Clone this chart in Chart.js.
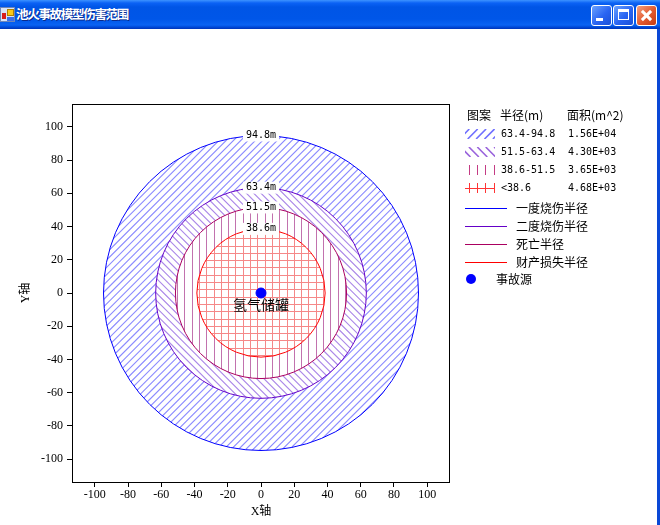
<!DOCTYPE html>
<html>
<head>
<meta charset="utf-8">
<title>池火事故模型伤害范围</title>
<script src="https://cdn.jsdelivr.net/npm/chart.js@4.4.0/dist/chart.umd.min.js"></script>
<style>
  html, body { margin: 0; padding: 0; background: #fff; }
  #win { position: relative; width: 660px; height: 525px; overflow: hidden; background: #fff; }
  #titlebar {
    position: absolute; left: 0; top: 0; width: 660px; height: 29px;
    background: linear-gradient(to bottom, #3d93ff 0px, #0b62f5 3px, #0055e6 7px, #0056e8 19px, #0a63f3 25px, #004ad9 27px, #0034b8 29px);
  }
  #caption {
    position: absolute; left: 16px; top: 5px; color: #fff;
    font: bold 12.5px "Noto Sans CJK SC"; line-height: 18px; letter-spacing: -1.3px;
    text-shadow: 1px 1px 0 #0a2a8c;
  }
  #appicon { position: absolute; left: 0; top: 7px; width: 15px; height: 15px; background: #d8e4f8; border: 1px solid #6f86b8; box-sizing: border-box; }
  #appicon .a { position: absolute; left: 6px; top: 1px; width: 7px; height: 7px; background: #f8c818; border: 1px solid #b08000; box-sizing: border-box; }
  #appicon .b { position: absolute; left: 1px; top: 5px; width: 4px; height: 6px; background: #d81e1e; }
  #appicon .c { position: absolute; left: 6px; top: 9px; width: 7px; height: 4px; background: #3a6ee8; }
  .btn {
    position: absolute; top: 5px; width: 21px; height: 21px; box-sizing: border-box;
    border: 1px solid #fff; border-radius: 3px;
    background: linear-gradient(135deg, #6aa2ff 0%, #2964f2 55%, #1b50d8 100%);
  }
  #bmin { left: 591px; }
  #bmax { left: 613px; }
  #bclose { left: 636px; background: linear-gradient(135deg, #f3a07e 0%, #e2582e 55%, #c43c14 100%); }
  #bmin span { position: absolute; left: 4px; top: 12px; width: 7px; height: 3px; background: #fff; }
  #bmax span { position: absolute; left: 4px; top: 3px; width: 11px; height: 11px; box-sizing: border-box; border: 1px solid #fff; border-top-width: 3px; }
  #bclose span { position: absolute; left: 8px; top: 3px; width: 3px; height: 13px; background: #fff; }
  #bclose span.l { transform: rotate(45deg); }
  #bclose span.r { transform: rotate(-45deg); }
  #frameR { position: absolute; left: 657px; top: 29px; width: 3px; height: 496px; background: #0a48d6; }
  #myChart { position: absolute; left: 0; top: 29px; width: 658px; height: 496px; }
</style>
</head>
<body>
<div id="win">
  <div id="titlebar">
    <div id="appicon"><div class="a"></div><div class="b"></div><div class="c"></div></div>
    <div id="caption">池火事故模型伤害范围</div>
    <div class="btn" id="bmin"><span></span></div>
    <div class="btn" id="bmax"><span></span></div>
    <div class="btn" id="bclose"><span class="l"></span><span class="r"></span></div>
  </div>
  <div id="frameR"></div>
  <canvas id="myChart" width="658" height="496"></canvas>
</div>
<script>
const radii = [94.8, 63.4, 51.5, 38.6];
const radiusTags = ['94.8m', '63.4m', '51.5m', '38.6m'];
const lineNames = ['一度烧伤半径', '二度烧伤半径', '死亡半径', '财产损失半径'];
const rangeTexts = ['63.4-94.8', '51.5-63.4', '38.6-51.5', '<38.6'];
const areaTexts = ['1.56E+04', '4.30E+03', '3.65E+03', '4.68E+03'];
const legendHeaders = ['图案', '半径(m)', '面积(m^2)'];
const sourceX = [0];
const sourceY = [0];
const sourceName = '氢气储罐';
const sourceLegend = '事故源';
const tickValues = [-100, -80, -60, -40, -20, 0, 20, 40, 60, 80, 100];
const axisMax = radii[0] * 1.2;

const hatchKinds = ['fwd', 'back', 'vert', 'grid'];
const ringColors = ['#8c8cff', '#ab88e8', '#c272ae', '#f58888'];
const ringWidths = [1.15, 1.15, 1, 1];
const patchColors = ['#7070ff', '#9a64dc', '#c43c84', '#ff3434'];
const lineColors = ['#0000ff', '#6400c8', '#aa0060', '#ff0000'];
const tickFont = { family: '"Liberation Serif", "Noto Sans CJK SC"', size: 12 };
const monoFont = '10px "DejaVu Sans Mono"';
const cjkFont = '12px "Noto Sans CJK SC"';

function hatch(ctx, kind, color, box, step, ox, oy, width) {
    const { x, y, w, h } = box;
    ctx.strokeStyle = color;
    ctx.lineWidth = width || 1;
    ctx.beginPath();
    if (kind === 'vert' || kind === 'grid') {
        for (let px = ox + Math.ceil((x - ox) / step) * step; px <= x + w; px += step) {
            const sx = Math.round(px) + 0.5;
            ctx.moveTo(sx, y);
            ctx.lineTo(sx, y + h);
        }
    }
    if (kind === 'grid') {
        for (let py = oy + Math.ceil((y - oy) / step) * step; py <= y + h; py += step) {
            const sy = Math.round(py) + 0.5;
            ctx.moveTo(x, sy);
            ctx.lineTo(x + w, sy);
        }
    }
    if (kind === 'fwd') {
        const c0 = ox + Math.ceil((x + y - ox) / step) * step;
        for (let c = c0; c <= x + w + y + h; c += step) {
            ctx.moveTo(c - y, y);
            ctx.lineTo(c - y - h, y + h);
        }
    }
    if (kind === 'back') {
        const c0 = ox + Math.ceil((x - y - h - ox) / step) * step;
        for (let c = c0; c <= x + w - y; c += step) {
            ctx.moveTo(c + y, y);
            ctx.lineTo(c + y + h, y + h);
        }
    }
    ctx.stroke();
}

const zonesPlugin = {
    id: 'zones',
    beforeDatasetsDraw(chart) {
        const ctx = chart.ctx;
        const xs = chart.scales.x, ys = chart.scales.y;
        const cx = xs.getPixelForValue(0), cy = ys.getPixelForValue(0);
        const rx = r => xs.getPixelForValue(r) - cx;
        const ry = r => cy - ys.getPixelForValue(r);

        radii.forEach((r, i) => {
            const inner = radii[i + 1];
            ctx.save();
            ctx.beginPath();
            ctx.ellipse(cx, cy, rx(r), ry(r), 0, 0, Math.PI * 2);
            if (inner) {
                ctx.moveTo(cx + rx(inner), cy);
                ctx.ellipse(cx, cy, rx(inner), ry(inner), 0, 0, Math.PI * 2, true);
            }
            ctx.clip('evenodd');
            const box = { x: cx - rx(r) - 2, y: cy - ry(r) - 2, w: rx(r) * 2 + 4, h: ry(r) * 2 + 4 };
            hatch(ctx, hatchKinds[i], ringColors[i], box, 7.3, cx + 3.65, cy + 3.65, ringWidths[i]);
            ctx.restore();
        });

        radii.forEach((r, i) => {
            ctx.beginPath();
            ctx.ellipse(cx, cy, rx(r), ry(r), 0, 0, Math.PI * 2);
            ctx.strokeStyle = lineColors[i];
            ctx.lineWidth = 1;
            ctx.stroke();
        });

        ctx.font = monoFont;
        ctx.textAlign = 'center';
        ctx.textBaseline = 'middle';
        radii.forEach((r, i) => {
            const ty = ys.getPixelForValue(r);
            const tw = ctx.measureText(radiusTags[i]).width;
            ctx.fillStyle = '#fff';
            ctx.fillRect(cx - tw / 2 - 3, ty - 6, tw + 6, 12);
            ctx.fillStyle = '#000';
            ctx.fillText(radiusTags[i], cx, ty);
        });
    },
    afterDatasetsDraw(chart) {
        const ctx = chart.ctx;
        const xs = chart.scales.x, ys = chart.scales.y;
        ctx.font = '14px "Noto Sans CJK SC"';
        ctx.fillStyle = '#000';
        ctx.textAlign = 'center';
        ctx.textBaseline = 'middle';
        sourceX.forEach((v, i) => {
            ctx.fillText(sourceName, xs.getPixelForValue(v), ys.getPixelForValue(sourceY[i]) + 12);
        });
    },
    afterDraw(chart) {
        const ctx = chart.ctx;
        const a = chart.chartArea;
        ctx.save();
        ctx.strokeStyle = '#000';
        ctx.lineWidth = 1;
        ctx.strokeRect(a.left + 0.5, a.top + 0.5, a.right - a.left - 1, a.bottom - a.top);

        // légende
        ctx.fillStyle = '#000';
        ctx.textAlign = 'left';
        ctx.textBaseline = 'middle';
        ctx.font = cjkFont;
        const colX = [467, 500, 567];
        legendHeaders.forEach((t, i) => ctx.fillText(t, colX[i], 86));

        rangeTexts.forEach((t, i) => {
            const y = 105 + i * 18;
            const box = { x: 465, y: y - 5, w: 30, h: 10 };
            ctx.save();
            ctx.beginPath();
            ctx.rect(box.x, box.y, box.w, box.h);
            ctx.clip();
            hatch(ctx, hatchKinds[i], patchColors[i], box, 8.4, 468.5, y, i < 2 ? 1.6 : 1);
            ctx.restore();
            ctx.fillStyle = '#000';
            ctx.font = monoFont;
            ctx.fillText(t, 501, y);
            ctx.fillText(areaTexts[i], 568, y);
        });

        lineNames.forEach((t, i) => {
            const y = 179 + i * 18;
            ctx.beginPath();
            ctx.moveTo(465, y + 0.5);
            ctx.lineTo(507, y + 0.5);
            ctx.strokeStyle = lineColors[i];
            ctx.lineWidth = 1;
            ctx.stroke();
            ctx.fillStyle = '#000';
            ctx.font = cjkFont;
            ctx.fillText(t, 516, y);
        });

        ctx.beginPath();
        ctx.arc(471, 250, 5, 0, Math.PI * 2);
        ctx.fillStyle = '#0000ff';
        ctx.fill();
        ctx.fillStyle = '#000';
        ctx.font = cjkFont;
        ctx.fillText(sourceLegend, 496, 250);
        ctx.restore();
    }
};

const setTicks = s => { s.ticks = tickValues.map(v => ({ value: v })); };

new Chart(document.getElementById('myChart'), {
    type: 'scatter',
    data: {
        datasets: [{
            label: sourceLegend,
            data: sourceX.map((x, i) => ({ x: x, y: sourceY[i] })),
            backgroundColor: '#0000ff',
            borderColor: '#0000ff',
            pointRadius: 5,
            pointHoverRadius: 5
        }]
    },
    options: {
        responsive: false,
        animation: false,
        devicePixelRatio: 1,
        events: [],
        layout: { padding: { left: 20, right: 208, top: 75, bottom: 3 } },
        plugins: {
            legend: { display: false },
            tooltip: { enabled: false }
        },
        scales: {
            x: {
                type: 'linear',
                min: -axisMax,
                max: axisMax,
                afterBuildTicks: setTicks,
                afterFit: s => { s.height = 40; },
                grid: { drawOnChartArea: false, tickLength: 5, color: '#000' },
                border: { display: false },
                ticks: { color: '#000', font: tickFont, padding: 1, autoSkip: false, maxRotation: 0 },
                title: { display: true, text: 'X轴', color: '#000', font: { ...tickFont, lineHeight: 1 }, padding: { top: 0, bottom: 4 } }
            },
            y: {
                type: 'linear',
                min: -axisMax,
                max: axisMax,
                afterBuildTicks: setTicks,
                afterFit: s => { s.width = 52; },
                grid: { drawOnChartArea: false, tickLength: 5, color: '#000' },
                border: { display: false },
                ticks: { color: '#000', font: tickFont, padding: 4, autoSkip: false },
                title: { display: true, text: 'Y轴', color: '#000', font: { ...tickFont, lineHeight: 1 }, padding: { top: 0, bottom: 0 } }
            }
        }
    },
    plugins: [zonesPlugin]
});
</script>
</body>
</html>
